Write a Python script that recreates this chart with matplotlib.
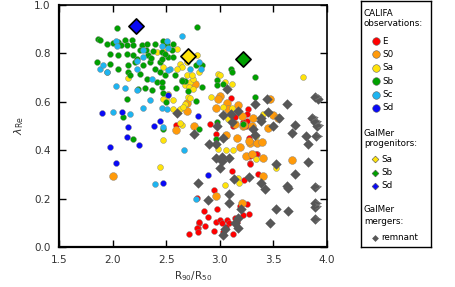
import numpy as np
import matplotlib
matplotlib.use("Agg")
import matplotlib.pyplot as plt

# --- datos (R90/R50, lambda_Re) ---
E_x = [2.71, 2.79, 2.80, 2.81, 2.59, 3.28, 3.28, 3.11, 3.23, 3.36, 2.95, 3.19, 3.25, 2.85, 2.97,
       3.22, 3.27, 2.89, 2.81, 2.86, 2.96, 3.00, 3.02, 3.07, 3.09, 3.14, 3.16, 2.79, 2.80, 2.95,
       3.03, 3.12, 3.06, 3.27, 3.35, 3.28, 3.10, 2.91, 2.96, 3.25, 3.26, 3.14, 3.12, 3.24, 3.28,
       3.25, 3.22, 3.34, 3.29, 3.34]
E_y = [0.053, 0.204, 0.078, 0.098, 0.506, 0.376, 0.347, 0.314, 0.278, 0.302, 0.237, 0.171, 0.176,
       0.147, 0.155, 0.131, 0.135, 0.122, 0.102, 0.086, 0.102, 0.110, 0.098, 0.110, 0.098, 0.118,
       0.102, 0.078, 0.061, 0.065, 0.061, 0.053, 0.082, 0.449, 0.384, 0.343, 0.616, 0.510, 0.465,
       0.522, 0.571, 0.539, 0.502, 0.502, 0.437, 0.551, 0.518, 0.429, 0.384, 0.384]

S0_x = [2.00, 2.59, 2.76, 2.77, 2.69, 2.69, 3.00, 2.96, 3.07, 3.08, 3.17, 3.21, 3.14, 3.22, 3.30,
        3.45, 3.50, 3.54, 3.47, 3.06, 3.16, 3.19, 3.28, 3.35, 3.39, 2.98, 3.24, 3.40, 3.30, 3.67,
        3.40, 2.96, 3.21, 3.31, 3.27, 3.23]
S0_y = [0.294, 0.482, 0.502, 0.673, 0.563, 0.596, 0.624, 0.576, 0.596, 0.571, 0.588, 0.543, 0.510,
        0.502, 0.498, 0.490, 0.547, 0.531, 0.612, 0.461, 0.449, 0.412, 0.429, 0.429, 0.433, 0.612,
        0.376, 0.367, 0.384, 0.359, 0.294, 0.212, 0.180, 0.531, 0.437, 0.506]

Sa_x = [2.14, 2.47, 2.41, 2.47, 2.60, 2.50, 2.52, 2.56, 2.47, 2.63, 2.68, 2.70, 2.63, 2.65, 2.69,
        2.68, 2.72, 2.75, 2.71, 2.79, 2.81, 2.65, 2.44, 2.98, 3.05, 3.11, 2.92, 2.69, 3.03, 3.11,
        3.03, 3.08, 3.78, 3.40, 3.06, 3.12, 3.34, 3.34, 3.05, 3.17, 3.18, 3.52, 2.72, 2.98, 2.66,
        2.56, 2.75, 3.00, 2.74, 2.60, 2.47, 2.63]
Sa_y = [0.698, 0.441, 0.804, 0.808, 0.820, 0.612, 0.633, 0.608, 0.612, 0.571, 0.592, 0.620, 0.755,
        0.743, 0.710, 0.669, 0.682, 0.694, 0.661, 0.792, 0.722, 0.506, 0.331, 0.714, 0.682, 0.673,
        0.620, 0.763, 0.580, 0.576, 0.547, 0.527, 0.702, 0.551, 0.400, 0.400, 0.457, 0.363, 0.257,
        0.286, 0.265, 0.327, 0.616, 0.404, 0.580, 0.571, 0.653, 0.710, 0.710, 0.735, 0.743, 0.514]

Sb_x = [2.04, 1.86, 1.88, 1.95, 2.00, 2.05, 2.12, 2.18, 2.08, 2.13, 2.19, 2.27, 2.32, 2.40, 2.47,
        1.98, 2.05, 2.13, 2.19, 2.26, 2.33, 2.38, 2.46, 2.52, 1.85, 1.98, 2.05, 2.14, 2.21, 2.28,
        2.35, 2.40, 2.44, 1.95, 2.14, 2.16, 2.26, 2.32, 2.44, 2.49, 2.41, 2.46, 2.24, 2.30, 2.37,
        2.13, 2.10, 2.19, 2.47, 2.50, 2.47, 2.51, 2.56, 2.55, 2.49, 2.56, 2.46, 2.58, 2.65, 2.46,
        2.59, 2.79, 2.78, 2.83, 3.10, 3.11, 3.33, 3.33, 2.78, 2.97, 2.97, 3.03, 2.68, 2.65, 2.81,
        2.96, 2.97, 3.22, 2.83, 2.70, 2.23, 2.36, 2.31]
Sb_y = [0.906, 0.861, 0.857, 0.837, 0.845, 0.849, 0.857, 0.857, 0.833, 0.833, 0.833, 0.833, 0.837,
        0.837, 0.853, 0.796, 0.792, 0.796, 0.792, 0.816, 0.792, 0.808, 0.804, 0.784, 0.763, 0.755,
        0.735, 0.751, 0.763, 0.751, 0.763, 0.735, 0.763, 0.722, 0.722, 0.710, 0.714, 0.694, 0.722,
        0.710, 0.682, 0.661, 0.653, 0.657, 0.649, 0.612, 0.539, 0.445, 0.486, 0.600, 0.637, 0.833,
        0.837, 0.812, 0.796, 0.784, 0.776, 0.710, 0.690, 0.682, 0.657, 0.910, 0.751, 0.751, 0.735,
        0.722, 0.702, 0.620, 0.604, 0.690, 0.669, 0.673, 0.686, 0.686, 0.486, 0.445, 0.518, 0.510,
        0.661, 0.645, 0.776, 0.780, 0.812]

Sc_x = [2.03, 2.04, 1.88, 1.91, 1.95, 2.03, 2.12, 2.00, 2.16, 2.23, 2.28, 2.35, 2.23, 2.28, 2.28,
        2.23, 2.37, 2.46, 2.52, 2.54, 2.46, 2.51, 2.47, 2.81, 2.67, 2.65, 2.82, 2.51, 2.72, 2.52,
        2.40, 2.78]
Sc_y = [0.853, 0.829, 0.735, 0.751, 0.722, 0.665, 0.657, 0.559, 0.551, 0.649, 0.576, 0.608, 0.767,
        0.784, 0.816, 0.735, 0.694, 0.829, 0.824, 0.735, 0.576, 0.571, 0.494, 0.763, 0.400, 0.873,
        0.735, 0.853, 0.735, 0.731, 0.261, 0.200]

Sd_x = [1.90, 2.09, 2.14, 2.13, 1.98, 2.25, 2.39, 2.44, 2.52, 2.80, 2.03, 2.47, 2.89]
Sd_y = [0.555, 0.559, 0.494, 0.453, 0.412, 0.420, 0.502, 0.522, 0.629, 0.543, 0.347, 0.265, 0.298]

# progenitores GalMer
prog_tipo = ['Sa', 'Sb', 'Sd']
prog_x = [2.70, 3.22, 2.22]
prog_y = [0.788, 0.776, 0.914]

# remanentes de fusiones GalMer
rem_x = [2.60, 2.76, 2.80, 3.07, 3.33, 3.44, 3.63, 2.97, 3.03, 3.10, 3.17, 3.38, 3.45, 3.55, 3.38,
         3.31, 3.50, 3.70, 3.67, 3.11, 2.90, 2.96, 3.03, 2.96, 3.02, 3.02, 3.09, 3.13, 3.27, 3.38,
         3.42, 3.52, 3.70, 3.63, 3.64, 3.82, 3.52, 3.64, 3.47, 2.89, 3.09, 3.09, 3.20, 3.17, 3.14,
         3.17, 3.05, 3.03, 3.33, 3.00, 3.80, 3.82]
rem_y = [0.555, 0.469, 0.265, 0.653, 0.592, 0.612, 0.592, 0.502, 0.547, 0.551, 0.563, 0.531, 0.559,
         0.531, 0.522, 0.486, 0.498, 0.506, 0.473, 0.518, 0.424, 0.424, 0.449, 0.367, 0.371, 0.355,
         0.367, 0.282, 0.290, 0.265, 0.241, 0.343, 0.302, 0.253, 0.245, 0.351, 0.155, 0.147, 0.098,
         0.196, 0.220, 0.180, 0.159, 0.118, 0.098, 0.078, 0.073, 0.049, 0.461, 0.327, 0.457, 0.424]
# remanentes con R90/R50 fuera de rango (limite inferior, con flecha)
lim_x = [3.89, 3.92, 3.86, 3.89, 3.91, 3.90, 3.89, 3.89, 3.89, 3.89]
lim_y = [0.620, 0.612, 0.535, 0.518, 0.502, 0.457, 0.249, 0.180, 0.167, 0.114]

tipos = ['E', 'S0', 'Sa', 'Sb', 'Sc', 'Sd']
colores = {'E': '#ff0000', 'S0': '#ff9a0a', 'Sa': '#ffe30a', 'Sb': '#00a000',
           'Sc': '#1eb4f0', 'Sd': '#0a0af5'}
datos = {'E': (E_x, E_y), 'S0': (S0_x, S0_y), 'Sa': (Sa_x, Sa_y), 'Sb': (Sb_x, Sb_y),
         'Sc': (Sc_x, Sc_y), 'Sd': (Sd_x, Sd_y)}
tam = {'E': 18, 'S0': 32, 'Sa': 18, 'Sb': 18, 'Sc': 18, 'Sd': 18}
gris = '#575757'

plt.rcParams['font.family'] = ['DejaVu Sans']
fig = plt.figure(figsize=(4.55, 2.87), dpi=100)
ax = fig.add_axes([59/455, 40/287, 268/455, 242/287])

for t in tipos:
    x, y = datos[t]
    ax.scatter(x, y, s=tam[t], c=colores[t], edgecolors='0.5', linewidths=0.3, zorder=3)

ax.scatter(rem_x + lim_x, rem_y + lim_y, s=28, marker='D', c=gris, linewidths=0, zorder=4)
for xx, yy in zip(lim_x, lim_y):
    ax.annotate('', xy=(xx + 0.09, yy), xytext=(xx + 0.02, yy),
                arrowprops=dict(arrowstyle='->', color='0.45', lw=0.6), zorder=4)

for t, xx, yy in zip(prog_tipo, prog_x, prog_y):
    ax.scatter(xx, yy, s=60, marker='D', c=colores[t], edgecolors='black', linewidths=1.2, zorder=5)

ax.set_xlim(1.5, 4.0)
ax.set_ylim(0.0, 1.0)
ax.set_xticks([1.5, 2.0, 2.5, 3.0, 3.5, 4.0])
ax.set_yticks([0.0, 0.2, 0.4, 0.6, 0.8, 1.0])
ax.xaxis.set_major_formatter(matplotlib.ticker.FormatStrFormatter('%.1f'))
ax.yaxis.set_major_formatter(matplotlib.ticker.FormatStrFormatter('%.1f'))
ax.tick_params(direction='in', top=True, right=True, length=5, width=1,
               labelsize=7.5, labelcolor='#333333', pad=6)
for lado in ['left', 'bottom']:
    ax.spines[lado].set_linewidth(1.6)
for lado in ['right', 'top']:
    ax.spines[lado].set_linewidth(1.2)
ax.set_xlabel(r'R$_{90}$/R$_{50}$', fontsize=7.5, color='#333333', labelpad=3)
ax.set_ylabel(r'$\lambda_{\rm Re}$', fontsize=8, color='#333333', labelpad=6)

# --- leyenda manual en caja aparte ---
lg = fig.add_axes([361/455, 40/287, 70/455, 246/287])
lg.set_xlim(0, 70)
lg.set_ylim(246, 0)
lg.set_xticks([])
lg.set_yticks([])
for s in lg.spines.values():
    s.set_linewidth(1.0)
fs = 6.3
lg.text(3, 12, 'CALIFA', fontsize=fs, va='center')
lg.text(3, 23, 'observations:', fontsize=fs, va='center')
for i, t in enumerate(tipos):
    yy = 40 + 13.4 * i
    lg.scatter(15, yy, s=30, c=colores[t], edgecolors='0.4', linewidths=0.4)
    lg.text(21, yy, t, fontsize=fs, va='center')
lg.text(3, 132, 'GalMer', fontsize=fs, va='center')
lg.text(3, 143, 'progenitors:', fontsize=fs, va='center')
for i, t in enumerate(prog_tipo):
    yy = 158 + 13.5 * i
    lg.scatter(14, yy, s=12, marker='D', c=colores[t], edgecolors='0.3', linewidths=0.4)
    lg.text(20, yy, t, fontsize=fs, va='center')
lg.text(3, 209, 'GalMer', fontsize=fs, va='center')
lg.text(3, 220, 'mergers:', fontsize=fs, va='center')
lg.scatter(14, 237, s=12, marker='D', c=gris, linewidths=0)
lg.text(20, 237, 'remnant', fontsize=fs, va='center')

fig.savefig('out.png', dpi=100)
